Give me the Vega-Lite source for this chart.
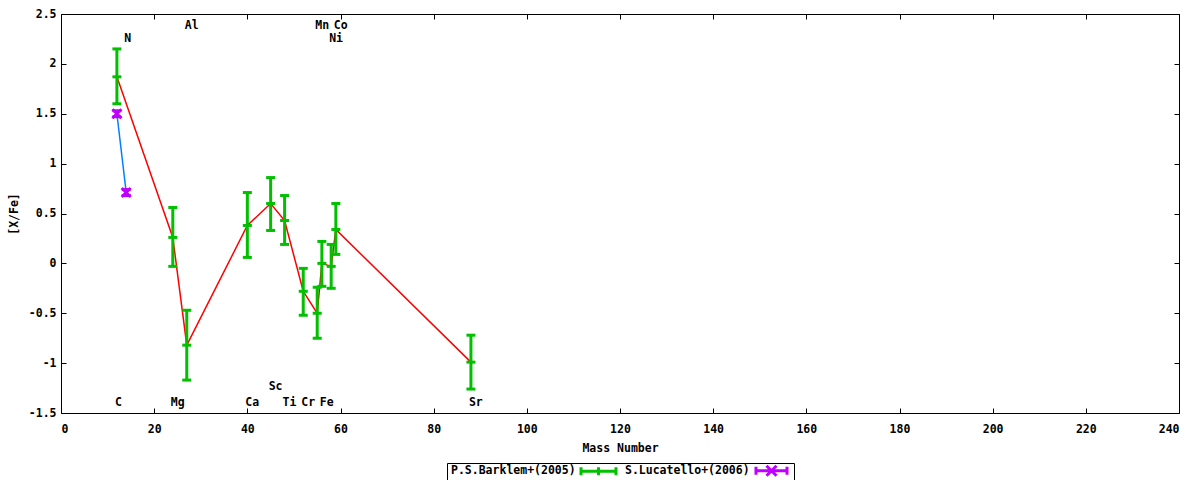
{
  "$schema": "https://vega.github.io/schema/vega-lite/v6.json",
  "width": 1118,
  "height": 399,
  "autosize": "none",
  "padding": {"left": 61, "top": 14, "right": 21, "bottom": 67},
  "background": "white",
  "config": {
    "view": {"stroke": "#000000", "strokeWidth": 1},
    "font": "DejaVu Sans Mono",
    "axis": {
      "grid": false,
      "domain": false,
      "tickColor": "#000000",
      "tickSize": -5,
      "tickWidth": 1,
      "labelFont": "DejaVu Sans Mono",
      "labelFontWeight": "bold",
      "labelFontSize": 11.5,
      "labelColor": "#000000",
      "titleFont": "DejaVu Sans Mono",
      "titleFontWeight": "bold",
      "titleFontSize": 11.5,
      "titleColor": "#000000"
    }
  },
  "data": {
    "values": [
      {"src": "P.S.Barklem+(2005)", "el": "C", "mass": 12, "val": 1.87, "lo": 1.60, "hi": 2.15},
      {"src": "P.S.Barklem+(2005)", "el": "Mg", "mass": 24, "val": 0.26, "lo": -0.03, "hi": 0.56},
      {"src": "P.S.Barklem+(2005)", "el": "Al", "mass": 27, "val": -0.82, "lo": -1.17, "hi": -0.47},
      {"src": "P.S.Barklem+(2005)", "el": "Ca", "mass": 40, "val": 0.38, "lo": 0.06, "hi": 0.71},
      {"src": "P.S.Barklem+(2005)", "el": "Sc", "mass": 45, "val": 0.60, "lo": 0.33, "hi": 0.86},
      {"src": "P.S.Barklem+(2005)", "el": "Ti", "mass": 48, "val": 0.43, "lo": 0.19, "hi": 0.68},
      {"src": "P.S.Barklem+(2005)", "el": "Cr", "mass": 52, "val": -0.28, "lo": -0.52, "hi": -0.05},
      {"src": "P.S.Barklem+(2005)", "el": "Mn", "mass": 55, "val": -0.50, "lo": -0.75, "hi": -0.24},
      {"src": "P.S.Barklem+(2005)", "el": "Fe", "mass": 56, "val": 0.00, "lo": -0.23, "hi": 0.22},
      {"src": "P.S.Barklem+(2005)", "el": "Ni", "mass": 58, "val": -0.03, "lo": -0.25, "hi": 0.19},
      {"src": "P.S.Barklem+(2005)", "el": "Co", "mass": 59, "val": 0.34, "lo": 0.09, "hi": 0.60},
      {"src": "P.S.Barklem+(2005)", "el": "Sr", "mass": 88, "val": -0.99, "lo": -1.26, "hi": -0.72},
      {"src": "S.Lucatello+(2006)", "el": "C", "mass": 12, "val": 1.50, "lo": 1.47, "hi": 1.53},
      {"src": "S.Lucatello+(2006)", "el": "N", "mass": 14, "val": 0.71, "lo": 0.68, "hi": 0.74}
    ]
  },
  "layer": [
    {
      "transform": [{"filter": {"field": "src", "equal": "P.S.Barklem+(2005)"}}],
      "mark": {"type": "line", "color": "#ff0000", "strokeWidth": 1.5},
      "encoding": {
        "x": {
          "field": "mass", "type": "quantitative",
          "scale": {"domain": [0, 240], "nice": false, "zero": false},
          "axis": {"orient": "bottom", "values": [0, 20, 40, 60, 80, 100, 120, 140, 160, 180, 200, 220, 240], "title": "Mass Number", "labelPadding": 15, "titlePadding": 8}
        },
        "y": {
          "field": "val", "type": "quantitative",
          "scale": {"domain": [-1.5, 2.5], "nice": false, "zero": false},
          "axis": {"orient": "left", "values": [-1.5, -1, -0.5, 0, 0.5, 1, 1.5, 2, 2.5], "labelExpr": "'' + datum.value", "title": "[X/Fe]", "labelPadding": 10, "titlePadding": 9}
        }
      }
    },
    {
      "transform": [{"filter": {"field": "src", "equal": "S.Lucatello+(2006)"}}],
      "mark": {"type": "line", "color": "#0080ff", "strokeWidth": 1.5},
      "encoding": {
        "x": {"field": "mass", "type": "quantitative", "axis": null},
        "y": {"field": "val", "type": "quantitative", "axis": null}
      }
    },
    {
      "transform": [{"filter": {"field": "src", "equal": "P.S.Barklem+(2005)"}}],
      "mark": {"type": "rule", "color": "#00c000", "strokeWidth": 3},
      "encoding": {
        "x": {"field": "mass", "type": "quantitative", "axis": null},
        "y": {"field": "lo", "type": "quantitative", "axis": null},
        "y2": {"field": "hi"}
      }
    },
    {
      "transform": [
        {"filter": {"field": "src", "equal": "P.S.Barklem+(2005)"}},
        {"fold": ["lo", "hi", "val"], "as": ["k", "v"]}
      ],
      "mark": {"type": "tick", "orient": "horizontal", "color": "#00c000", "size": 9, "thickness": 3, "opacity": 1},
      "encoding": {
        "x": {"field": "mass", "type": "quantitative", "axis": null},
        "y": {"field": "v", "type": "quantitative", "axis": null}
      }
    },
    {
      "transform": [{"filter": {"field": "src", "equal": "S.Lucatello+(2006)"}}],
      "mark": {"type": "rule", "color": "#c000ff", "strokeWidth": 3},
      "encoding": {
        "x": {"field": "mass", "type": "quantitative", "axis": null},
        "y": {"field": "lo", "type": "quantitative", "axis": null},
        "y2": {"field": "hi"}
      }
    },
    {
      "transform": [
        {"filter": {"field": "src", "equal": "S.Lucatello+(2006)"}},
        {"fold": ["lo", "hi"], "as": ["k", "v"]}
      ],
      "mark": {"type": "tick", "orient": "horizontal", "color": "#c000ff", "size": 9, "thickness": 3, "opacity": 1},
      "encoding": {
        "x": {"field": "mass", "type": "quantitative", "axis": null},
        "y": {"field": "v", "type": "quantitative", "axis": null}
      }
    },
    {
      "transform": [{"filter": {"field": "src", "equal": "S.Lucatello+(2006)"}}],
      "mark": {"type": "point", "shape": "M-1,-1L1,1M-1,1L1,-1", "size": 81, "strokeWidth": 3, "filled": false, "color": "#c000ff", "opacity": 1},
      "encoding": {
        "x": {"field": "mass", "type": "quantitative", "axis": null},
        "y": {"field": "val", "type": "quantitative", "axis": null}
      }
    },
    {
      "data": {
        "values": [
          {"el": "C", "mass": 12, "ly": -1.4},
          {"el": "N", "mass": 14, "ly": 2.25},
          {"el": "Mg", "mass": 24, "ly": -1.4},
          {"el": "Al", "mass": 27, "ly": 2.38},
          {"el": "Ca", "mass": 40, "ly": -1.4},
          {"el": "Sc", "mass": 45, "ly": -1.24},
          {"el": "Ti", "mass": 48, "ly": -1.4},
          {"el": "Cr", "mass": 52, "ly": -1.4},
          {"el": "Mn", "mass": 55, "ly": 2.38},
          {"el": "Fe", "mass": 56, "ly": -1.4},
          {"el": "Ni", "mass": 58, "ly": 2.25},
          {"el": "Co", "mass": 59, "ly": 2.38},
          {"el": "Sr", "mass": 88, "ly": -1.4}
        ]
      },
      "mark": {"type": "text", "align": "left", "baseline": "middle", "dx": -2, "font": "DejaVu Sans Mono", "fontWeight": "bold", "fontSize": 11.5, "color": "#000000"},
      "encoding": {
        "x": {
          "field": "mass", "type": "quantitative",
          "axis": {"orient": "top", "labels": false, "title": null, "values": [0, 20, 40, 60, 80, 100, 120, 140, 160, 180, 200, 220, 240]}
        },
        "y": {
          "field": "ly", "type": "quantitative",
          "axis": {"orient": "right", "labels": false, "title": null, "values": [-1.5, -1, -0.5, 0, 0.5, 1, 1.5, 2, 2.5]}
        },
        "text": {"field": "el"}
      }
    },
    {
      "mark": {"type": "point", "filled": false, "opacity": 0},
      "encoding": {
        "x": {"field": "mass", "type": "quantitative", "axis": null},
        "y": {"field": "val", "type": "quantitative", "axis": null},
        "color": {
          "field": "src", "type": "nominal",
          "scale": {"domain": ["P.S.Barklem+(2005)", "S.Lucatello+(2006)"], "range": ["#00c000", "#c000ff"]},
          "legend": {
            "title": null, "orient": "none", "legendX": 386, "legendY": 449, "direction": "horizontal",
            "strokeColor": "#000000", "padding": 1, "symbolSize": 100, "symbolStrokeWidth": 3, "symbolOffset": 144,
            "symbolOpacity": 1, "symbolFillColor": "transparent",
            "labelAlign": "left", "labelOffset": -154, "columnPadding": -4,
            "labelFont": "DejaVu Sans Mono", "labelFontWeight": "bold", "labelFontSize": 11.5, "labelColor": "#000000"
          }
        },
        "shape": {
          "field": "src", "type": "nominal",
          "scale": {"domain": ["P.S.Barklem+(2005)", "S.Lucatello+(2006)"], "range": ["M-3.5,0H3.5M-3.5,-0.8V0.8M3.5,-0.8V0.8M0,-0.8V0.8", "M-3.3,0H2.9M-3.3,-0.8V0.8M2.9,-0.8V0.8M-1.2,-1L0.8,1M-1.2,1L0.8,-1"]},
          "legend": {
            "title": null, "orient": "none", "legendX": 386, "legendY": 449, "direction": "horizontal",
            "strokeColor": "#000000", "padding": 1, "symbolSize": 100, "symbolStrokeWidth": 3, "symbolOffset": 144,
            "symbolOpacity": 1, "symbolFillColor": "transparent",
            "labelAlign": "left", "labelOffset": -154, "columnPadding": -4,
            "labelFont": "DejaVu Sans Mono", "labelFontWeight": "bold", "labelFontSize": 11.5, "labelColor": "#000000"
          }
        }
      }
    }
  ],
  "resolve": {"axis": {"x": "independent", "y": "independent"}}
}
